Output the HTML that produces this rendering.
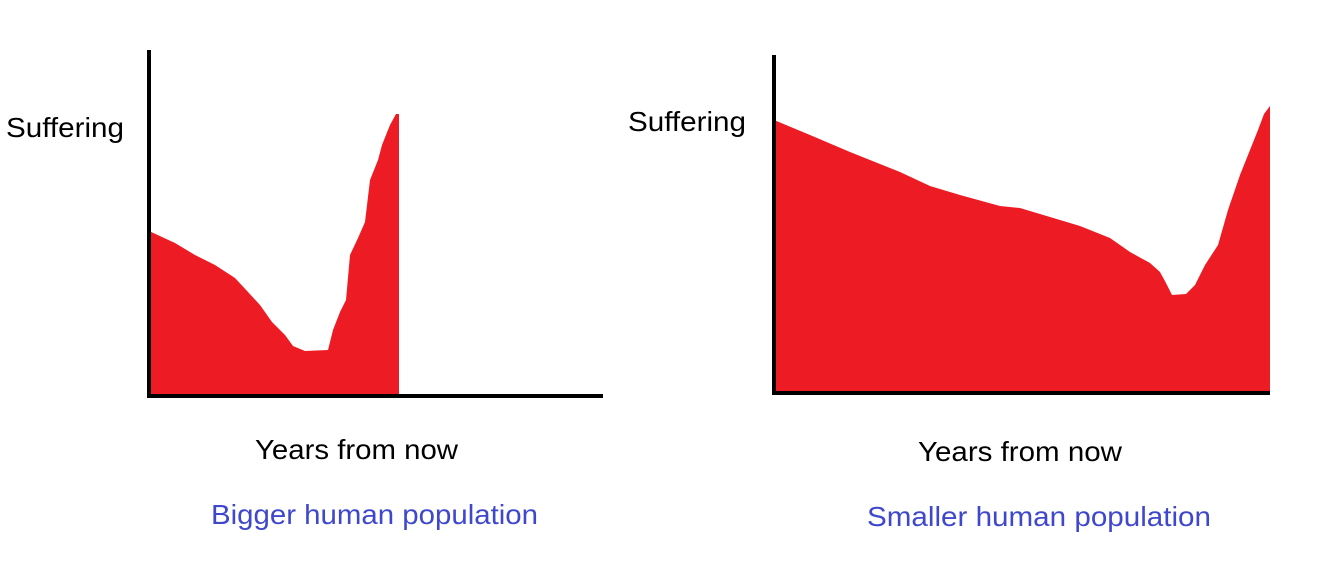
<!DOCTYPE html>
<html><head><meta charset="utf-8"><style>
body{margin:0;background:#fff;}
svg{display:block;}
text{font-family:"Liberation Sans",sans-serif;}
</style></head><body>
<svg width="1333" height="570" viewBox="0 0 1333 570" xmlns="http://www.w3.org/2000/svg">
<path d="M149,231 L175,243 L195,255 L215,265 L235,278 L248,292 L260,305 L272,322 L285,335 L293,346 L305,351 L328,350 L333,330 L340,312 L346,300 L350,255 L358,238 L365,222 L370,180 L378,160 L382,145 L390,125 L396,114 L399,114 L399,396 L149,396 Z" fill="#ed1c24"/>
<path d="M774,120 L810,135 L850,152 L900,172 L930,186 L960,195 L1000,206 L1020,208 L1050,217 L1080,226 L1110,238 L1130,252 L1150,263 L1160,272 L1166,283 L1172,295 L1186,294 L1195,285 L1205,265 L1218,245 L1228,210 L1240,175 L1250,150 L1258,130 L1264,114 L1270,106 L1270,394 L774,394 Z" fill="#ed1c24"/>
<line x1="149" y1="50" x2="149" y2="398" stroke="#000" stroke-width="4"/>
<line x1="147" y1="396" x2="603" y2="396" stroke="#000" stroke-width="4"/>
<line x1="774" y1="55" x2="774" y2="395" stroke="#000" stroke-width="4"/>
<line x1="772" y1="393" x2="1270" y2="393" stroke="#000" stroke-width="4"/>
<text x="6" y="137" font-size="28" textLength="118" lengthAdjust="spacingAndGlyphs" fill="#000">Suffering</text>
<text x="628" y="131" font-size="28" textLength="118" lengthAdjust="spacingAndGlyphs" fill="#000">Suffering</text>
<text x="255" y="459" font-size="28" textLength="203" lengthAdjust="spacingAndGlyphs" fill="#000">Years from now</text>
<text x="918" y="461" font-size="28" textLength="204" lengthAdjust="spacingAndGlyphs" fill="#000">Years from now</text>
<text x="211" y="524" font-size="28" textLength="327" lengthAdjust="spacingAndGlyphs" fill="#3f48cc">Bigger human population</text>
<text x="867" y="526" font-size="28" textLength="344" lengthAdjust="spacingAndGlyphs" fill="#3f48cc">Smaller human population</text>
</svg>
</body></html>
